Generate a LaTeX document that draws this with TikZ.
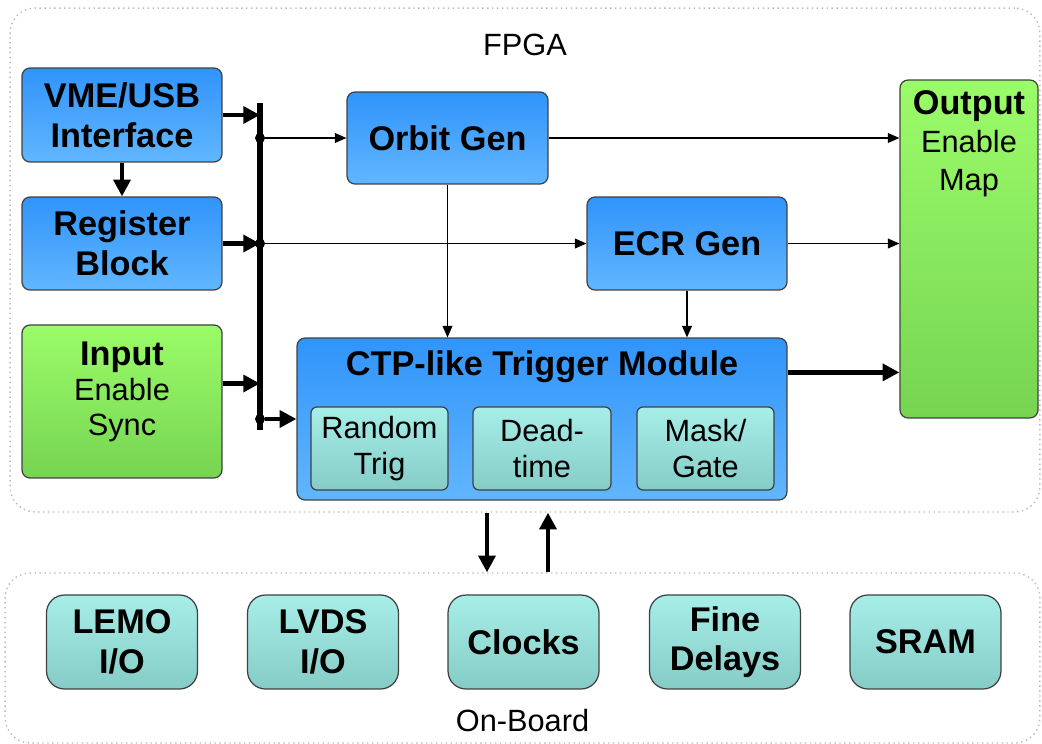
\documentclass[tikz,border=0pt]{standalone}
\usepackage{fontspec}
\setmainfont{Liberation Sans}
\usepackage{tikz}
\usetikzlibrary{positioning, calc, shapes, arrows.meta}
\definecolor{blueTop}{RGB}{48,148,250}
\definecolor{blueBot}{RGB}{98,182,255}
\definecolor{greenTop}{RGB}{155,252,105}
\definecolor{greenBot}{RGB}{118,212,82}
\definecolor{tealTop}{RGB}{168,238,232}
\definecolor{tealBot}{RGB}{134,204,198}
\newcommand{\bsz}{\fontsize{19.5}{22.5}\selectfont\bfseries}
\newcommand{\rsz}{\fontsize{17.5}{20}\selectfont}
\tikzstyle{Arrow} = [
%thick bus arrow
line width=2.8pt, -{Triangle[length=9.5pt, width=9.5pt]}
]
\tikzstyle{ThinArrow} = [
%thin signal arrow
line width=0.8pt, -{Triangle[length=6.5pt, width=5.5pt]}
]

\begin{document}
\begin{tikzpicture}[x=0.02cm, y=-0.02cm,
			zone/.style = {draw=gray!55, dotted, line width=0.8pt, rounded corners=0.5cm},
			blk/.style = {rectangle, draw=black!75, line width=0.7pt, rounded corners=0.16cm, top color=blueTop, bottom color=blueBot, align=center, font=\bsz},
			grn/.style = {blk, top color=greenTop, bottom color=greenBot},
			inbox/.style = {blk, top color=tealTop, bottom color=tealBot, rounded corners=0.12cm, font=\rsz},
			ext/.style = {blk, top color=tealTop, bottom color=tealBot, rounded corners=0.36cm},
			junc/.style = {circle, fill=black, inner sep=0pt, minimum size=0.2cm},
		]
		\useasboundingbox (0,0) rectangle (1042,744);

		\node[zone, minimum width=20.6cm, minimum height=10.08cm,
			label={[font=\rsz, anchor=north, yshift=-0.4cm]north:FPGA}] (fpga) at (525,260) {};
		\node[zone, minimum width=20.7cm, minimum height=3.4cm,
			label={[font=\rsz, anchor=south, yshift=0.12cm]south:On-Board}] (board) at (522.5,658) {};

		\node[blk, minimum width=4cm, minimum height=1.88cm] (vme) at (122,115) {VME/USB\\Interface};
		\node[blk, minimum width=4cm, minimum height=1.86cm] (reg) at (122,243.5) {Register\\Block};
		\node[grn, minimum width=4cm, minimum height=3.06cm,
			label={[align=center, font=\rsz, anchor=north, yshift=-0.22cm]north:{\bsz Input}\\Enable\\Sync}] (inp) at (122,401.5) {};

		\node[blk, minimum width=4.02cm, minimum height=1.84cm] (orbit) at (447.5,138) {Orbit Gen};
		\node[blk, minimum width=4cm, minimum height=1.86cm] (ecr) at (687,243.5) {ECR Gen};
		\node[blk, minimum width=9.8cm, minimum height=3.24cm,
			label={[font=\bsz, anchor=north, yshift=-0.14cm]north:CTP-like Trigger Module}] (ctp) at (542,419) {};
		\node[inbox, minimum width=2.74cm, minimum height=1.66cm] (rnd) at (379.5,448.5) {Random\\Trig};
		\node[inbox, minimum width=2.76cm, minimum height=1.66cm] (dead) at (542,448.5) {Dead-\\time};
		\node[inbox, minimum width=2.74cm, minimum height=1.66cm] (mask) at (705.5,448.5) {Mask/\\Gate};

		\node[grn, minimum width=2.76cm, minimum height=6.76cm,
			label={[align=center, font=\fontsize{17.5}{21.5}\selectfont, anchor=north, yshift=-0.1cm]north:{\bsz Output}\\Enable\\Map}] (out) at (969,249) {};

		\node[ext, minimum width=3.02cm, minimum height=1.88cm] (lemo) at (122,642) {LEMO\\I/O};
		\node[ext, minimum width=3.02cm, minimum height=1.88cm] (lvds) at (323,642) {LVDS\\I/O};
		\node[ext, minimum width=3.02cm, minimum height=1.88cm] (clk) at (523.5,642) {Clocks};
		\node[ext, minimum width=3.02cm, minimum height=1.88cm] (fine) at (725,642) {Fine\\Delays};
		\node[ext, minimum width=3.02cm, minimum height=1.88cm] (sram) at (925.5,642) {SRAM};

		% bus
		\coordinate (busTop) at (260,103);
		\coordinate (busBot) at (260,430);
		\draw[line width=3pt] (busTop) -- (busBot);
		\node[junc] (j1) at (orbit.west -| busTop) {};
		\node[junc] (j2) at (ecr.west -| busTop) {};
		\node[junc] (j3) at (ctp.west -| busTop) {};

		\draw[Arrow](vme.east)--(vme.east -| busTop);
		\draw[Arrow](reg.east)--(reg.east -| busTop);
		\draw[Arrow]($(inp.east)+(0,-18)$)--($(inp.east -| busTop)+(0,-18)$);
		\draw[Arrow](vme.south)--(reg.north);
		\draw[Arrow](j3)--(ctp.west);

		\draw[ThinArrow](j1)--(orbit.west);
		\draw[ThinArrow](j2)--(ecr.west);
		\draw[ThinArrow](orbit.east)--(orbit.east -| out.west);
		\draw[ThinArrow](ecr.east)--(ecr.east -| out.west);
		\draw[ThinArrow](orbit.south)--(orbit.south |- ctp.north);
		\draw[ThinArrow](ecr.south)--(ecr.south |- ctp.north);
		\draw[Arrow]($(ctp.north east)+(0,35)$)--($(ctp.north east -| out.west)+(0,35)$);

		% FPGA <-> board
		\coordinate (dn) at (487,0);
		\coordinate (up) at (548,0);
		\draw[Arrow](dn |- fpga.south)--(dn |- board.north);
		\draw[Arrow](up |- board.north)--(up |- fpga.south);

	\end{tikzpicture}
\end{document}
